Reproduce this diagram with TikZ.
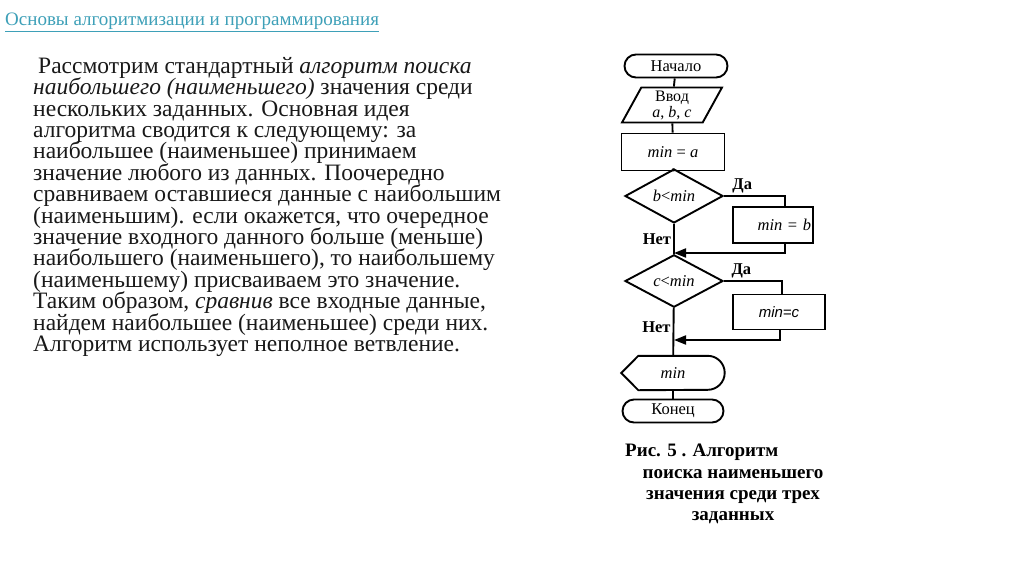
\documentclass[tikz,border=0pt]{standalone}
\usepackage{fontspec}
\setmainfont{Liberation Serif}
\newfontfamily\labelsans{Liberation Sans}
\usetikzlibrary{arrows.meta,positioning,shapes.geometric,shapes.misc}
\definecolor{titleteal}{RGB}{62,160,184}
\definecolor{bodyink}{RGB}{25,25,25}
\newcommand\tightlines{\lineskiplimit=-20pt\relax\lineskip=0pt\relax}
\tikzset{
  flowline/.style={line width=1.9pt},
  joinarrow/.style={flowline,-{Triangle[length=12pt,width=9pt]}},
  termbox/.style={rounded rectangle,draw,line width=1.9pt,minimum width=103pt,minimum height=23pt,inner sep=0pt,font=\fontsize{16.5}{16.5}\selectfont},
  iobox/.style={trapezium,trapezium left angle=67,trapezium right angle=113,trapezium stretches=true,draw,line width=1.9pt,minimum width=100pt,minimum height=35pt,inner sep=0pt,align=center,font=\fontsize{16}{16}\selectfont},
  actbox/.style={rectangle,draw,line width=1.9pt,inner sep=0pt,font=\fontsize{16.5}{16.5}\selectfont},
  testbox/.style={diamond,draw,line width=1.9pt,minimum width=98pt,minimum height=34pt,inner sep=0pt,font=\fontsize{16.5}{16.5}\selectfont},
  flowlabel/.style={font=\fontsize{16.5}{16.5}\selectfont\bfseries,inner sep=2pt}
}
\begin{document}
\begin{tikzpicture}[x=1pt,y=-1pt]
  \useasboundingbox[fill=white] (0,0) rectangle (1024,574);
  % Title
  \node[anchor=west,inner sep=0pt,text=titleteal,font=\fontsize{19}{19}\selectfont] (title) at (5,22)
    {\underline{Основы алгоритмизации и программирования}};
  % Body text
  \node[anchor=north west,inner sep=0pt,align=left,text=bodyink,
        font=\fontsize{23.5}{21.4}\selectfont\tightlines] (body) at (33,57)
    {\hspace*{5pt}Рассмотрим стандартный \textit{алгоритм поиска}\\
     \textit{наибольшего (наименьшего)} значения среди\\
     нескольких заданных. Основная идея\\
     алгоритма сводится к следующему: за\\
     наибольшее (наименьшее) принимаем\\
     значение любого из данных. Поочередно\\
     сравниваем оставшиеся данные с наибольшим\\
     (наименьшим). если окажется, что очередное\\
     значение входного данного больше (меньше)\\
     наибольшего (наименьшего), то наибольшему\\
     (наименьшему) присваиваем это значение.\\
     Таким образом, \textit{сравнив} все входные данные,\\
     найдем наибольшее (наименьшее) среди них.\\
     Алгоритм использует неполное ветвление.};
  %
  % Flowchart
  \node[termbox] (start) at (676,66) {Начало};
  \node[iobox] (inp) at (672,105) {Ввод\\\textit{a}, \textit{b}, \textit{c}};
  \node[actbox,minimum width=103pt,minimum height=37pt] (init) at (673,152) {\textit{min} = \textit{a}};
  \node[testbox] (cmp1) at (674,196) {\textit{b}<\textit{min}};
  \node[actbox,minimum width=80pt,minimum height=36pt,align=right,text width=76pt] (asg1) at (773,225) {\textit{min} = \textit{b}};
  \node[testbox] (cmp2) at (674,281) {\textit{c}<\textit{min}};
  \node[actbox,minimum width=92pt,minimum height=35pt,font=\labelsans\itshape\fontsize{15}{15}\selectfont] (asg2) at (779,312) {min=c};
  \node[minimum width=103pt,minimum height=34pt,inner sep=0pt,font=\fontsize{16.5}{16.5}\selectfont] (out) at (673,373) {\textit{min}};
  \draw[flowline] ([xshift=17pt]out.north west) -- ([xshift=-17pt]out.north east)
    arc (90:-90:17pt) -- ([xshift=17pt]out.south west) -- (out.west) -- cycle;
  \node[termbox,minimum width=101pt] (stop) at (673,411) {Конец};
  \coordinate (join1) at (674,253);
  \coordinate (join2) at (674,340);
  %
  \draw[flowline] (start) -- (inp);
  \draw[flowline] (inp) -- (init);
  \draw[flowline] (init) -- (cmp1);
  \draw[flowline] (cmp1) -- node[flowlabel,left,pos=0.5] {Нет} (cmp2);
  \draw[flowline] (cmp2) -- node[flowlabel,left,pos=0.4] {Нет} (out);
  \draw[flowline] (out) -- (stop);
  \draw[flowline] (cmp1.east) -| node[flowlabel,above,pos=0.15] {Да} ([xshift=12pt]asg1.north);
  \draw[joinarrow] ([xshift=12pt]asg1.south) |- (join1);
  \draw[flowline] (cmp2.east) -| node[flowlabel,above,pos=0.15] {Да} ([xshift=3pt]asg2.north);
  \draw[joinarrow] ([xshift=1pt]asg2.south) |- (join2);
  %
  % Caption
  \node[anchor=west,inner sep=0pt,font=\fontsize{19}{19}\selectfont\bfseries] (capfirst) at (625,452) {Рис. 5 . Алгоритм};
  \node[anchor=north,inner sep=0pt,align=center,font=\fontsize{19}{21}\selectfont\bfseries] (caprest) at (733,469)
    {поиска наименьшего\\значения среди трех\\заданных};
\end{tikzpicture}
\end{document}
